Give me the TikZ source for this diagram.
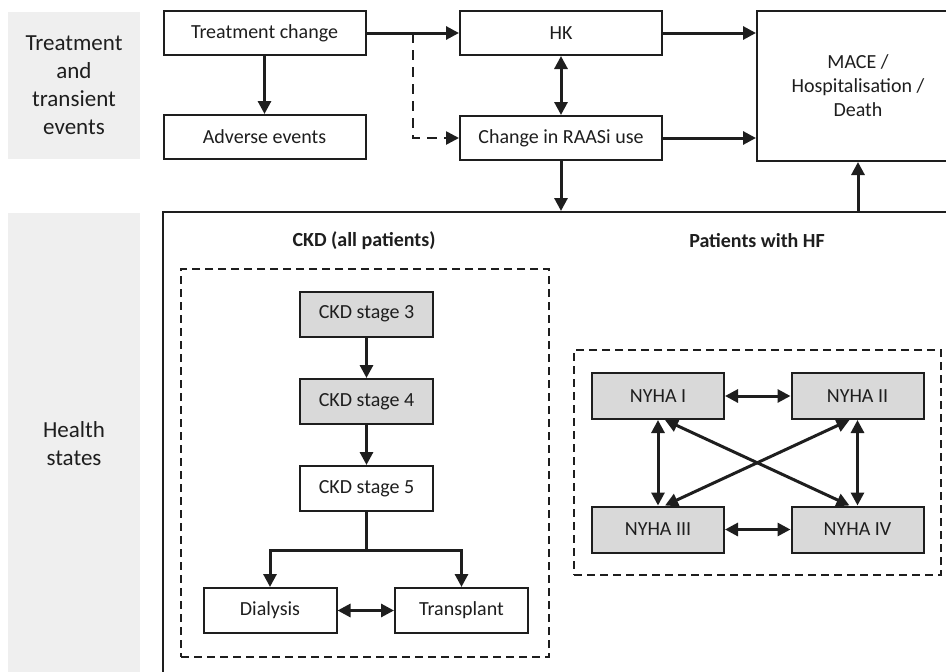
\documentclass[tikz,border=0pt]{standalone}
\usepackage{fontspec}
\setmainfont{Carlito}
\usetikzlibrary{arrows.meta}
\definecolor{labelgrey}{HTML}{EFEFEF}
\definecolor{stategrey}{HTML}{D9D9D9}
\definecolor{ink}{HTML}{1E1E1E}
\begin{document}
\begin{tikzpicture}[x=1pt,y=-1pt,>={Triangle[length=13pt,width=13pt]},
    every node/.style={inner sep=0pt,text=ink},
    box/.style={draw=ink,line width=2pt,fill=white,minimum width=202pt,minimum height=44pt,font=\fontsize{20}{24}\selectfont},
    statebox/.style={box,minimum width=133pt,minimum height=45pt},
    greystate/.style={statebox,fill=stategrey},
    rowlabel/.style={fill=labelgrey,minimum width=132pt,align=center,font=\fontsize{23}{28}\selectfont},
    heading/.style={font=\fontsize{20}{24}\selectfont\bfseries},
    group/.style={draw=ink,line width=2pt,dash pattern=on 8pt off 5pt},
    arr/.style={draw=ink,line width=3pt,->},
    dbl/.style={draw=ink,line width=3pt,<->},
    dasharr/.style={draw=ink,line width=2.6pt,dash pattern=on 10pt off 7pt,->}]
    \useasboundingbox (0,0) rectangle (946,672);
    \clip (0,0) rectangle (946,672);
    \node[rowlabel,minimum height=147pt] (tlab) at (74,85.5) {Treatment\\and\\transient\\events};
    \node[rowlabel,minimum height=462pt] (hlab) at (74,444) {Health\\states};
    \node[draw=ink,line width=2pt,minimum width=837pt,minimum height=488pt] (hs) at (581.5,456) {};
    \node[box] (trt) at (264.5,33) {Treatment change};
    \node[box] (adv) at (264.5,137) {Adverse events};
    \node[box] (hk) at (561,33) {HK};
    \node[box] (raas) at (561,138) {Change in RAASi use};
    \node[box,minimum height=150pt,align=center] (mace) at (858,86) {MACE /\\Hospitalisation /\\Death};
    \coordinate (split) at (413,33);
    \draw[arr] (trt) -- (hk);
    \draw[dasharr] (split) |- (raas);
    \draw[arr] (trt) -- (adv);
    \draw[dbl] (hk) -- (raas);
    \draw[arr] (hk) -- (hk -| mace.west);
    \draw[arr] (raas) -- (raas -| mace.west);
    \draw[arr] (raas) -- (raas |- hs.north);
    \draw[arr] (mace |- hs.north) -- (mace);
    \node[heading] (ckdh) at (364,241) {CKD (all patients)};
    \node[heading] (hfh) at (757,241) {Patients with HF};
    \node[group,minimum width=368pt,minimum height=388pt] (ckdg) at (365,463) {};
    \node[group,minimum width=367pt,minimum height=225pt] (hfg) at (757.5,462.5) {};
    \node[greystate] (s3) at (366.5,314) {CKD stage 3};
    \node[greystate] (s4) at (366.5,401.5) {CKD stage 4};
    \node[statebox] (s5) at (366.5,488.5) {CKD stage 5};
    \node[statebox] (dia) at (270,610.5) {Dialysis};
    \node[statebox] (tra) at (461.5,610.5) {Transplant};
    \coordinate (fork) at (366.5,550);
    \draw[arr] (s3) -- (s4);
    \draw[arr] (s4) -- (s5);
    \draw[draw=ink,line width=3pt] (s5) -- (fork);
    \draw[arr] (fork) -| (dia);
    \draw[arr] (fork) -| (tra);
    \draw[dbl] (dia) -- (tra);
    \node[greystate,minimum width=132pt,minimum height=46pt] (n1) at (658,396) {NYHA I};
    \node[greystate,minimum width=132pt,minimum height=46pt] (n2) at (857.5,396) {NYHA II};
    \node[greystate,minimum width=132pt,minimum height=46pt] (n3) at (658,529.5) {NYHA III};
    \node[greystate,minimum width=132pt,minimum height=46pt] (n4) at (857.5,529.5) {NYHA IV};
    \draw[dbl] (n1) -- (n2);
    \draw[dbl] (n3) -- (n4);
    \draw[dbl] (n1) -- (n3);
    \draw[dbl] (n2) -- (n4);
    \draw[dbl] ([xshift=7pt]n1.south) -- ([xshift=-8pt]n4.north);
    \draw[dbl] ([xshift=-8pt]n2.south) -- ([xshift=7pt]n3.north);
\end{tikzpicture}
\end{document}
